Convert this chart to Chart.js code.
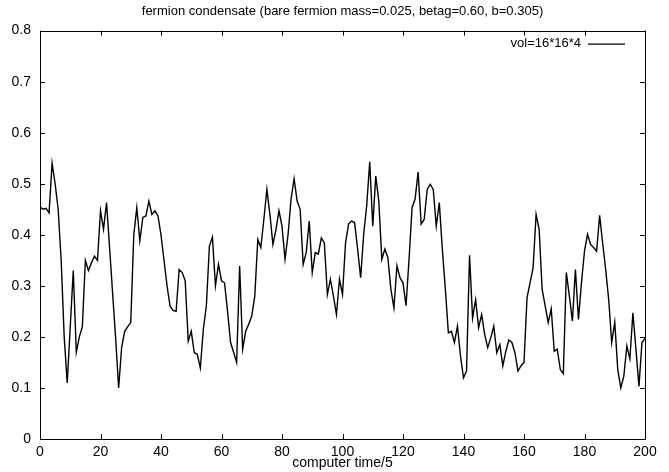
<!DOCTYPE html>
<html>
<head>
<meta charset="utf-8">
<script src="https://cdn.jsdelivr.net/npm/chart.js@4"></script>
<style>
  html, body { margin: 0; padding: 0; background: #fff; }
  #wrap { width: 669px; height: 472px; }
</style>
</head>
<body>
<div id="wrap"><canvas id="condensateChart"></canvas></div>
<script>
// chart data
const seriesLabel = 'vol=16*16*4';
const titleText = 'fermion condensate (bare fermion mass=0.025, betag=0.60, b=0.305)';
const xTitle = 'computer time/5';

const condensate = [
  0.455, 0.450, 0.452, 0.443, 0.540, 0.500, 0.450, 0.350, 0.200, 0.110,
  0.220, 0.330, 0.170, 0.200, 0.220, 0.350, 0.330, 0.345, 0.358, 0.350,
  0.447, 0.411, 0.463, 0.375, 0.286, 0.198, 0.100, 0.180, 0.211, 0.220,
  0.228, 0.400, 0.453, 0.388, 0.434, 0.437, 0.466, 0.440, 0.447, 0.437,
  0.400, 0.350, 0.300, 0.260, 0.252, 0.250, 0.332, 0.326, 0.310, 0.192,
  0.211, 0.169, 0.166, 0.139, 0.215, 0.261, 0.378, 0.395, 0.300, 0.342,
  0.310, 0.306, 0.250, 0.189, 0.170, 0.150, 0.339, 0.176, 0.211, 0.225,
  0.241, 0.280, 0.391, 0.375, 0.430, 0.489, 0.440, 0.381, 0.410, 0.447,
  0.417, 0.352, 0.400, 0.470, 0.510, 0.466, 0.450, 0.342, 0.365, 0.427,
  0.326, 0.365, 0.362, 0.394, 0.384, 0.283, 0.313, 0.280, 0.244, 0.313,
  0.283, 0.384, 0.421, 0.427, 0.424, 0.372, 0.316, 0.401, 0.457, 0.543,
  0.417, 0.515, 0.466, 0.352, 0.372, 0.355, 0.293, 0.257, 0.339, 0.316,
  0.306, 0.261, 0.352, 0.453, 0.470, 0.523, 0.421, 0.430, 0.489, 0.499,
  0.489, 0.417, 0.463, 0.372, 0.293, 0.208, 0.211, 0.189, 0.221, 0.163,
  0.120, 0.133, 0.360, 0.237, 0.273, 0.218, 0.244, 0.205, 0.179, 0.198,
  0.221, 0.169, 0.185, 0.143, 0.172, 0.194, 0.189, 0.169, 0.133, 0.143,
  0.150, 0.277, 0.306, 0.335, 0.440, 0.411, 0.293, 0.261, 0.228, 0.255,
  0.172, 0.176, 0.136, 0.128, 0.326, 0.280, 0.231, 0.332, 0.234, 0.306,
  0.368, 0.401, 0.381, 0.375, 0.368, 0.438, 0.384, 0.332, 0.273, 0.189,
  0.229, 0.136, 0.100, 0.123, 0.182, 0.157, 0.247, 0.176, 0.103, 0.189,
  0.197
];
const times = condensate.map((_, i) => i);

const FONT = '"Liberation Sans", Arial, Helvetica, sans-serif';
const NARROW = '"Liberation Sans Narrow", "Arial Narrow", "Liberation Sans", sans-serif';

// gnuplot-style frame: box border with inward ticks on all four sides,
// plus the key drawn inside the top-right corner
const framePlugin = {
  id: 'gnuplotFrame',
  afterLayout(chart) {
    // center the title over the plot box, like gnuplot does
    if (chart.titleBlock) {
      chart.titleBlock.left = chart.chartArea.left;
      chart.titleBlock.right = chart.chartArea.right;
    }
  },
  afterDraw(chart) {
    const { ctx, chartArea: a, scales } = chart;
    const len = 5;
    ctx.save();
    ctx.strokeStyle = '#000';
    ctx.lineWidth = 1;
    ctx.strokeRect(Math.round(a.left) + 0.5, Math.round(a.top) + 0.5,
      Math.round(a.right - a.left), Math.round(a.bottom - a.top));
    ctx.beginPath();
    scales.x.ticks.forEach(t => {
      const px = Math.round(scales.x.getPixelForValue(t.value)) + 0.5;
      ctx.moveTo(px, a.bottom); ctx.lineTo(px, a.bottom - len);
      ctx.moveTo(px, a.top); ctx.lineTo(px, a.top + len);
    });
    scales.y.ticks.forEach(t => {
      const py = Math.round(scales.y.getPixelForValue(t.value)) + 0.5;
      ctx.moveTo(a.left, py); ctx.lineTo(a.left + len, py);
      ctx.moveTo(a.right, py); ctx.lineTo(a.right - len, py);
    });
    ctx.stroke();

    // key
    const ds = chart.data.datasets[0];
    const ky = a.top + 13;
    ctx.font = '13px ' + FONT;
    ctx.fillStyle = '#000';
    ctx.textAlign = 'right';
    ctx.textBaseline = 'middle';
    ctx.fillText(ds.label, a.right - 64, ky);
    ctx.beginPath();
    ctx.lineWidth = ds.borderWidth;
    ctx.strokeStyle = ds.borderColor;
    ctx.moveTo(a.right - 57, ky + 0.5);
    ctx.lineTo(a.right - 20, ky + 0.5);
    ctx.stroke();
    ctx.restore();
  }
};

document.addEventListener('DOMContentLoaded', () => {
  const canvas = document.getElementById('condensateChart');
  new Chart(canvas, {
    type: 'line',
    data: {
      labels: times,
      datasets: [{
        label: seriesLabel,
        data: condensate,
        borderColor: '#000',
        borderWidth: 1.4,
        pointRadius: 0,
        tension: 0,
        fill: false
      }]
    },
    options: {
      responsive: true,
      maintainAspectRatio: false,
      animation: false,
      layout: { padding: { right: 24, top: 0, bottom: 0, left: 0 } },
      plugins: {
        legend: { display: false },
        tooltip: { enabled: false },
        title: {
          display: true,
          text: titleText,
          color: '#000',
          font: { family: FONT, size: 13, weight: 'normal' },
          padding: { top: 4, bottom: 11 }
        }
      },
      scales: {
        x: {
          type: 'linear',
          min: 0,
          max: 200,
          ticks: {
            stepSize: 20,
            color: '#000',
            padding: 5,
            maxRotation: 0,
            font: { family: NARROW, size: 14 }
          },
          grid: { display: false, drawTicks: false },
          border: { display: false },
          title: {
            display: true,
            text: xTitle,
            color: '#000',
            padding: { top: -2, bottom: 0 },
            font: { family: FONT, size: 14 }
          },
          afterFit: scale => { scale.height = 33; }
        },
        y: {
          min: 0,
          max: 0.8,
          ticks: {
            stepSize: 0.1,
            color: '#000',
            padding: 9,
            font: { family: NARROW, size: 14 }
          },
          grid: { display: false, drawTicks: false },
          border: { display: false },
          afterFit: scale => { scale.width = 40; }
        }
      }
    },
    plugins: [framePlugin]
  });
});
</script>
</body>
</html>
